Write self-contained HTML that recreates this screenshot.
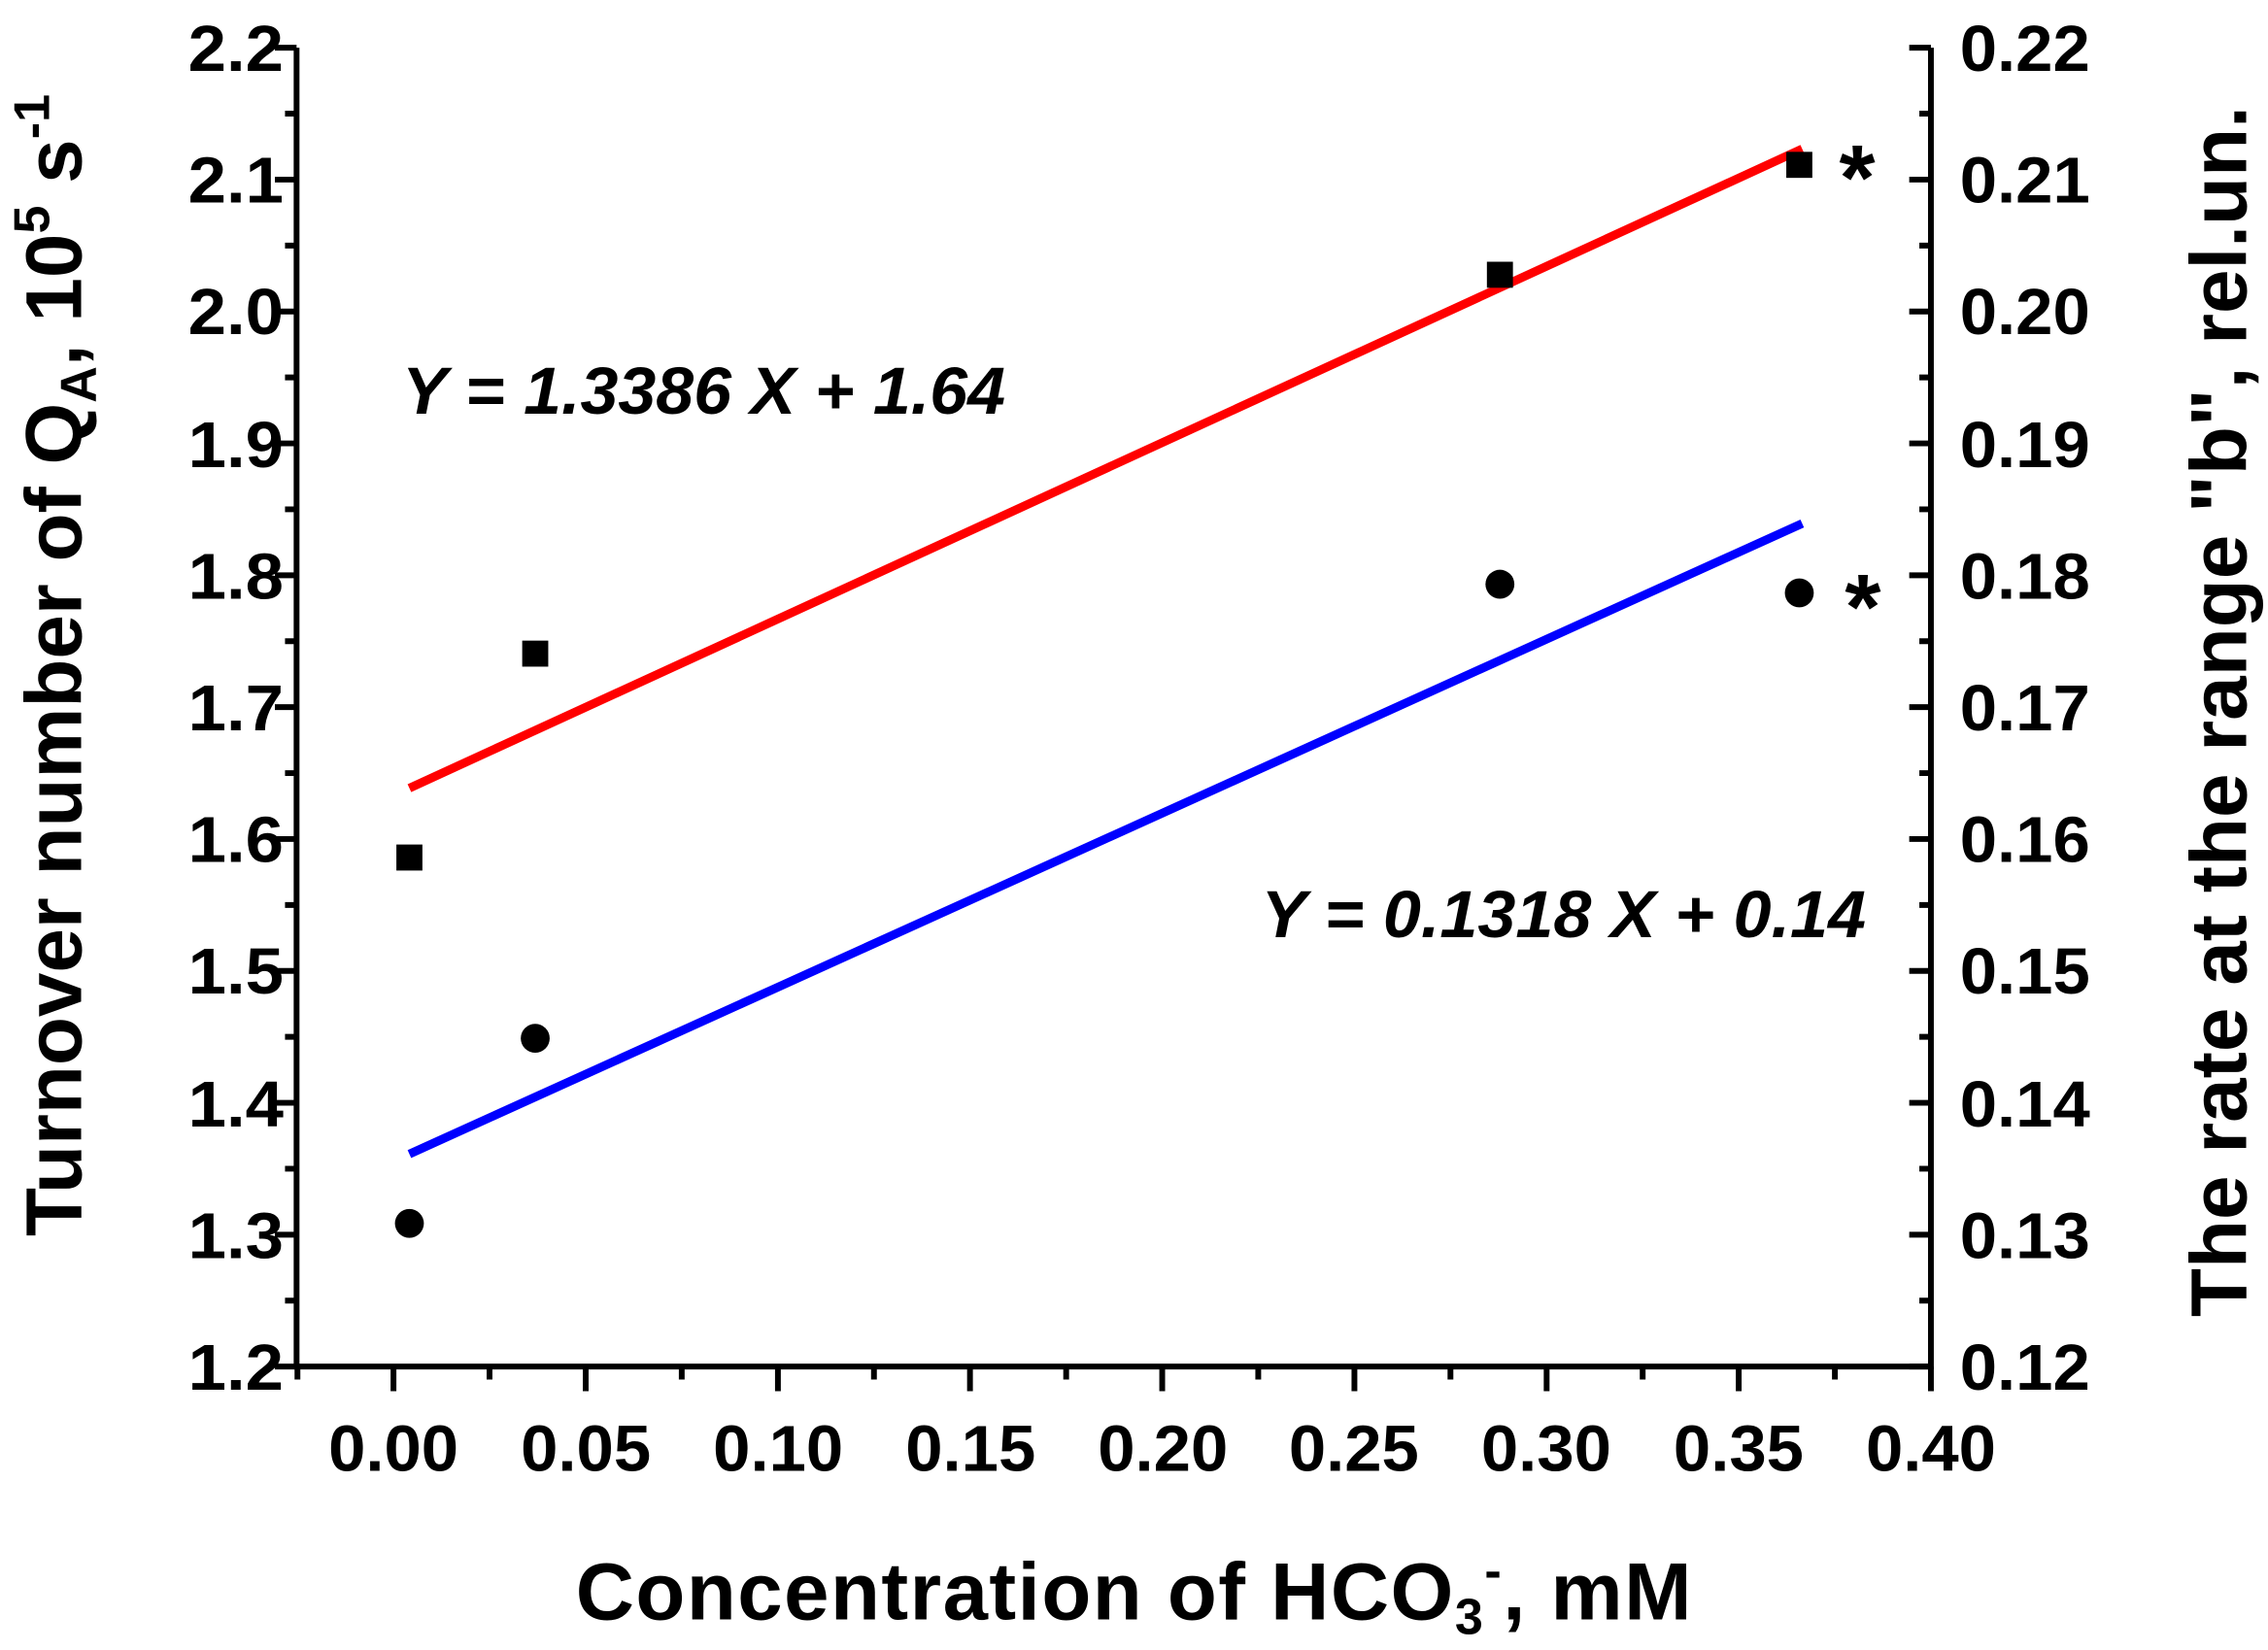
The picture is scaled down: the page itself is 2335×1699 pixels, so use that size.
<!DOCTYPE html>
<html><head><meta charset="utf-8"><style>html,body{margin:0;padding:0;background:#fff}svg{display:block}</style></head>
<body>
<svg width="2335" height="1699" viewBox="0 0 1568 1141" xmlns="http://www.w3.org/2000/svg" font-family="Liberation Sans, Arial, sans-serif" font-weight="bold">
<rect width="1568" height="1141" fill="#fff"/>
<g stroke="#000" stroke-width="4" fill="none">
<path d="M205,33 V945 H1335 V33"/>
</g>
<g stroke="#000" stroke-width="4">
<path d="M190,33H205M190,124.2H205M190,215.4H205M190,306.6H205M190,397.8H205M190,489H205M190,580.2H205M190,671.4H205M190,762.6H205M190,853.8H205M190,945H205"/>
<path d="M197,78.6H205M197,169.8H205M197,261H205M197,352.2H205M197,443.4H205M197,534.6H205M197,625.8H205M197,717H205M197,808.2H205M197,899.4H205"/>
<path d="M1320,33H1335M1320,124.2H1335M1320,215.4H1335M1320,306.6H1335M1320,397.8H1335M1320,489H1335M1320,580.2H1335M1320,671.4H1335M1320,762.6H1335M1320,853.8H1335M1320,945H1335"/>
<path d="M1327,78.6H1335M1327,169.8H1335M1327,261H1335M1327,352.2H1335M1327,443.4H1335M1327,534.6H1335M1327,625.8H1335M1327,717H1335M1327,808.2H1335M1327,899.4H1335"/>
<path d="M272,945V962M404.9,945V962M537.8,945V962M670.6,945V962M803.5,945V962M936.4,945V962M1069.3,945V962M1202.1,945V962M1335,945V962"/>
<path d="M205.6,945V954M338.4,945V954M471.3,945V954M604.2,945V954M737.1,945V954M869.9,945V954M1002.8,945V954M1135.7,945V954M1268.6,945V954"/>
</g>
<g font-size="45" text-anchor="end">
<text x="196" y="49" textLength="66" lengthAdjust="spacingAndGlyphs">2.2</text><text x="196" y="140" textLength="66" lengthAdjust="spacingAndGlyphs">2.1</text><text x="196" y="231" textLength="66" lengthAdjust="spacingAndGlyphs">2.0</text><text x="196" y="323" textLength="66" lengthAdjust="spacingAndGlyphs">1.9</text><text x="196" y="414" textLength="66" lengthAdjust="spacingAndGlyphs">1.8</text><text x="196" y="505" textLength="66" lengthAdjust="spacingAndGlyphs">1.7</text><text x="196" y="596" textLength="66" lengthAdjust="spacingAndGlyphs">1.6</text><text x="196" y="687" textLength="66" lengthAdjust="spacingAndGlyphs">1.5</text><text x="196" y="779" textLength="66" lengthAdjust="spacingAndGlyphs">1.4</text><text x="196" y="870" textLength="66" lengthAdjust="spacingAndGlyphs">1.3</text><text x="196" y="961" textLength="66" lengthAdjust="spacingAndGlyphs">1.2</text>
</g>
<g font-size="45" text-anchor="start">
<text x="1355" y="49" textLength="90" lengthAdjust="spacingAndGlyphs">0.22</text><text x="1355" y="140" textLength="90" lengthAdjust="spacingAndGlyphs">0.21</text><text x="1355" y="231" textLength="90" lengthAdjust="spacingAndGlyphs">0.20</text><text x="1355" y="323" textLength="90" lengthAdjust="spacingAndGlyphs">0.19</text><text x="1355" y="414" textLength="90" lengthAdjust="spacingAndGlyphs">0.18</text><text x="1355" y="505" textLength="90" lengthAdjust="spacingAndGlyphs">0.17</text><text x="1355" y="596" textLength="90" lengthAdjust="spacingAndGlyphs">0.16</text><text x="1355" y="687" textLength="90" lengthAdjust="spacingAndGlyphs">0.15</text><text x="1355" y="779" textLength="90" lengthAdjust="spacingAndGlyphs">0.14</text><text x="1355" y="870" textLength="90" lengthAdjust="spacingAndGlyphs">0.13</text><text x="1355" y="961" textLength="90" lengthAdjust="spacingAndGlyphs">0.12</text>
</g>
<g font-size="45">
<text x="227" y="1017" textLength="90" lengthAdjust="spacingAndGlyphs">0.00</text><text x="360" y="1017" textLength="90" lengthAdjust="spacingAndGlyphs">0.05</text><text x="493" y="1017" textLength="90" lengthAdjust="spacingAndGlyphs">0.10</text><text x="626" y="1017" textLength="90" lengthAdjust="spacingAndGlyphs">0.15</text><text x="759" y="1017" textLength="90" lengthAdjust="spacingAndGlyphs">0.20</text><text x="891" y="1017" textLength="90" lengthAdjust="spacingAndGlyphs">0.25</text><text x="1024" y="1017" textLength="90" lengthAdjust="spacingAndGlyphs">0.30</text><text x="1157" y="1017" textLength="90" lengthAdjust="spacingAndGlyphs">0.35</text><text x="1290" y="1017" textLength="90" lengthAdjust="spacingAndGlyphs">0.40</text>
</g>
<text x="398" y="1120" font-size="56" letter-spacing="1">Concentration of HCO<tspan font-size="35" dy="10">3</tspan><tspan font-size="35" dy="-32">-</tspan><tspan dy="22">, mM</tspan></text>
<text transform="translate(56,460) rotate(-90)" font-size="55" text-anchor="middle">Turnover number of Q<tspan font-size="35" dy="10">A</tspan><tspan dy="-10">, 10</tspan><tspan font-size="35" dy="-22">5</tspan><tspan dy="22"> s</tspan><tspan font-size="35" dy="-22">-1</tspan></text>
<text transform="translate(1553,492) rotate(-90)" font-size="55" text-anchor="middle">The rate at the range "b", rel.un.</text>
<g font-size="46" font-style="italic">
<text x="278" y="286" textLength="417" lengthAdjust="spacingAndGlyphs">Y = 1.3386 X + 1.64</text>
<text x="872" y="648" textLength="418" lengthAdjust="spacingAndGlyphs">Y = 0.1318 X + 0.14</text>
</g>
<line x1="283" y1="545" x2="1246" y2="103" stroke="#ff0000" stroke-width="6"/>
<line x1="283" y1="798" x2="1246" y2="362" stroke="#0000ff" stroke-width="6"/>
<g fill="#000">
<rect x="274" y="584" width="18" height="18"/><rect x="361" y="443" width="18" height="18"/><rect x="1028" y="181" width="18" height="18"/><rect x="1235" y="105" width="18" height="18"/>
<circle cx="283" cy="846" r="10"/><circle cx="370" cy="718" r="10"/><circle cx="1037" cy="404" r="10"/><circle cx="1244" cy="410" r="10"/>
</g>
<g font-size="64" text-anchor="middle">
<text x="1284" y="145">*</text><text x="1288" y="442">*</text>
</g>
</svg>
</body></html>
